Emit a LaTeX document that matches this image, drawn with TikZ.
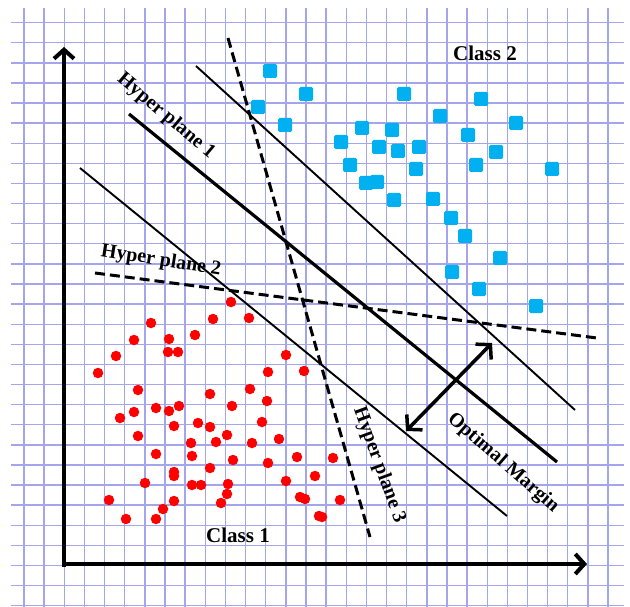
\documentclass[tikz,border=0pt]{standalone}
\usepackage{fontspec}
\setmainfont{Liberation Serif}
\usetikzlibrary{arrows.meta}
\definecolor{gridc}{RGB}{165,165,236}
\definecolor{redpt}{RGB}{255,0,0}
\definecolor{bluept}{RGB}{0,176,240}
\tikzset{
  gridline/.style={gridc, line width=1.4pt},
  thinplane/.style={black, line width=1.9pt},
  thickplane/.style={black, line width=3.2pt},
  dashplane/.style={black, line width=3pt, dash pattern=on 10pt off 5pt},
  axisline/.style={black, line width=4pt, -{Straight Barb[length=9pt,width=20pt,line width=4pt]}},
  marginarrow/.style={black, line width=3.5pt, {Straight Barb[length=10pt,width=22pt,line width=3.5pt]}-{Straight Barb[length=10pt,width=22pt,line width=3.5pt]}},
  redpoint/.style={circle, fill=redpt, inner sep=0pt, minimum size=10.5pt},
  bluepoint/.style={rectangle, rounded corners=1.5pt, fill=bluept, inner sep=0pt, minimum size=14pt},
  classlabel/.style={font=\fontsize{21}{21}\selectfont\bfseries},
  planelabel/.style={font=\fontsize{20}{20}\selectfont\bfseries, inner sep=0pt},
}
\begin{document}
\begin{tikzpicture}[x=1pt,y=-1pt]
\useasboundingbox (0,0) rectangle (630,607);
% grid
\foreach \i in {0,...,29} {
  \draw[gridline] ({24+20.14*\i},8) -- ({24+20.14*\i},607);
}
\foreach \j in {0,...,29} {
  \draw[gridline] (11,{22.7+20.1*\j}) -- (624,{22.7+20.1*\j});
}
% planes
\coordinate (u1) at (196,66);  \coordinate (u2) at (575,410);
\coordinate (m1) at (129,114); \coordinate (m2) at (557,462);
\coordinate (l1) at (80,168);  \coordinate (l2) at (507,516);
\coordinate (h2a) at (95,273); \coordinate (h2b) at (597,338);
\coordinate (h3a) at (228,38); \coordinate (h3b) at (370,537);
\draw[thinplane] (u1) -- (u2);
\draw[thickplane] (m1) -- (m2);
\draw[thinplane] (l1) -- (l2);
% red points
\foreach \x/\y in {231/302,151/323,213/319,249/318,134/340,169/339,195/335,116/356,168/352,178/352,
  98/373,286/355,268/372,304/371,138/390,210/394,250/389,156/408,169/411,179/406,134/412,232/406,
  267/401,120/418,174/426,198/423,210/427,262/422,138/436,191/443,216/442,227/435,252/443,279/439,
  156/454,192/456,233/460,268/463,297/457,174/472,174/476,210/468,315/476,145/483,192/485,201/485,
  228/484,286/481,227/494,109/500,174/501,163/509,221/503,300/497,305/499,126/519,156/519,319/516,
  333/458,340/500,322/517}
  \node[redpoint] at (\x,\y) {};
% blue points
\foreach \x/\y in {270/71,306/94,404/94,258/107,285/125,362/128,392/130,341/142,379/147,398/151,
  350/165,366/183,377/182,394/200,481/99,440/116,516/123,468/135,419/147,496/152,416/169,476/165,
  552/169,433/199,451/218,465/236,500/258,452/272,479/289,536/306}
  \node[bluepoint] at (\x,\y) {};
% dashed hyperplanes
\draw[dashplane] (h2a) -- (h2b);
\draw[dashplane] (h3a) -- (h3b);
% margin arrow
\coordinate (ma) at (406,431); \coordinate (mb) at (492,343);
\draw[marginarrow] (ma) -- (mb);
% axes
\coordinate (o1) at (64,567); \coordinate (yt) at (64,47);
\coordinate (o2) at (62,564); \coordinate (xt) at (587,564);
\draw[axisline] (o1) -- (yt);
\draw[axisline] (o2) -- (xt);
% labels
\node[planelabel, rotate=-40] (hp1) at (166,116) {Hyper plane 1};
\node[planelabel, rotate=-9] (hp2) at (161,261) {Hyper plane 2};
\node[planelabel, rotate=-70] (hp3) at (379,465) {Hyper plane 3};
\node[planelabel, rotate=-41] (om) at (503,463) {Optimal Margin};
\node[classlabel] (c1) at (238,535) {Class 1};
\node[classlabel] (c2) at (485,53) {Class 2};
\end{tikzpicture}
\end{document}
